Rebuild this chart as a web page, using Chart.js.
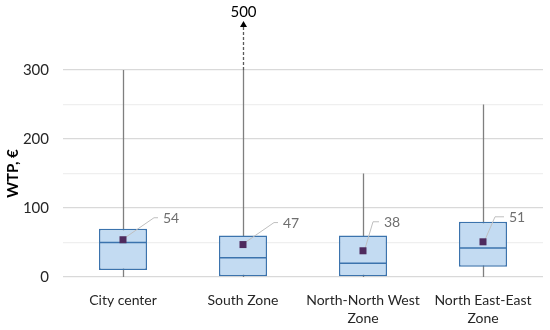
<!DOCTYPE html>
<html>
<head>
<meta charset="utf-8">
<script src="https://cdn.jsdelivr.net/npm/chart.js@4.4.0/dist/chart.umd.min.js"></script>
<style>
  body { margin: 0; background: #fff; }
  #wrap { width: 550px; height: 330px; }
</style>
</head>
<body>
<div id="wrap"><canvas id="chartWtp"></canvas></div>
<script>
const zones = [['City center'], ['South Zone'], ['North-North West', 'Zone'], ['North East-East', 'Zone']];
const whiskerMin = [0, 0, 0, 0];
const q1 = [10, 0, 0, 15];
const median = [50, 28, 20, 42];
const q3 = [70, 60, 60, 80];
const whiskerMax = [300, 300, 150, 250];
const means = [54, 47, 38, 51];
const beyondAxis = [null, 500, null, null];

// where the mean labels sit, in pixels from the marker
const labelOffsets = [
    { dx: 31, dy: -22, run: 4 },
    { dx: 31, dy: -22, run: 4 },
    { dx: 10, dy: -29, run: 6 },
    { dx: 12, dy: -25, run: 9 }
];

const boxBorder = '#3b73ad';
const fontFam = 'Lato, "Open Sans", sans-serif';

const boxPlotExtras = {
    id: 'boxPlotExtras',
    beforeDatasetsDraw(chart) {
        const { ctx, scales: { x, y } } = chart;
        ctx.save();
        ctx.strokeStyle = '#7f7f7f';
        ctx.lineWidth = 1.3;
        zones.forEach((z, i) => {
            const px = Math.round(x.getPixelForValue(i)) + 0.5;
            ctx.beginPath();
            ctx.moveTo(px, y.getPixelForValue(whiskerMin[i]));
            ctx.lineTo(px, y.getPixelForValue(whiskerMax[i]));
            ctx.stroke();

            if (beyondAxis[i] !== null) {
                const top = 26;
                ctx.save();
                ctx.strokeStyle = '#595959';
                ctx.setLineDash([3, 2]);
                ctx.beginPath();
                ctx.moveTo(px, y.getPixelForValue(whiskerMax[i]));
                ctx.lineTo(px, top);
                ctx.stroke();
                ctx.restore();
                ctx.fillStyle = '#000';
                ctx.beginPath();
                ctx.moveTo(px, top - 5);
                ctx.lineTo(px - 3.5, top + 1);
                ctx.lineTo(px + 3.5, top + 1);
                ctx.closePath();
                ctx.fill();
                ctx.font = '15px ' + fontFam;
                ctx.textAlign = 'center';
                ctx.textBaseline = 'middle';
                ctx.fillStyle = '#000';
                ctx.fillText(String(beyondAxis[i]), px, 12);
            }
        });
        ctx.restore();
    },
    afterDatasetsDraw(chart) {
        const { ctx, scales: { x, y } } = chart;
        const boxMeta = chart.getDatasetMeta(0);
        const meanMeta = chart.getDatasetMeta(1);
        ctx.save();
        // medians
        ctx.strokeStyle = boxBorder;
        ctx.lineWidth = 1.5;
        boxMeta.data.forEach((bar, i) => {
            const half = bar.width / 2;
            const py = y.getPixelForValue(median[i]);
            ctx.beginPath();
            ctx.moveTo(bar.x - half, py);
            ctx.lineTo(bar.x + half, py);
            ctx.stroke();
        });
        // mean labels with leader lines
        ctx.font = '14px ' + fontFam;
        ctx.textBaseline = 'middle';
        ctx.textAlign = 'left';
        meanMeta.data.forEach((pt, i) => {
            const o = labelOffsets[i];
            const bx = pt.x + o.dx, by = pt.y + o.dy;
            ctx.strokeStyle = '#bfbfbf';
            ctx.lineWidth = 1;
            ctx.beginPath();
            ctx.moveTo(pt.x + 2, pt.y - 2);
            ctx.lineTo(bx, by);
            ctx.lineTo(bx + o.run, by);
            ctx.stroke();
            ctx.fillStyle = '#6f6f6f';
            ctx.fillText(String(means[i]), bx + o.run + 5, by + 1);
        });
        // redraw markers over the leader lines
        ctx.fillStyle = '#4e2a5e';
        meanMeta.data.forEach(pt => {
            ctx.fillRect(pt.x - 3.5, pt.y - 3.5, 7, 7);
        });
        ctx.restore();
    }
};

new Chart(document.getElementById('chartWtp').getContext('2d'), {
    type: 'bar',
    data: {
        labels: zones,
        datasets: [{
            data: zones.map((z, i) => [q1[i], q3[i]]),
            backgroundColor: '#c3dbf2',
            borderColor: boxBorder,
            borderWidth: 1.5,
            borderSkipped: false,
            categoryPercentage: 1,
            barPercentage: 0.4
        }, {
            type: 'line',
            data: means,
            showLine: false,
            pointStyle: 'rect',
            pointRadius: 4.9,
            pointBorderWidth: 0,
            pointBackgroundColor: '#4e2a5e'
        }]
    },
    options: {
        responsive: true,
        maintainAspectRatio: false,
        animation: false,
        layout: { padding: { top: 70, right: 7, bottom: 0, left: 4 } },
        plugins: { legend: { display: false }, tooltip: { enabled: false } },
        scales: {
            x: {
                grid: { display: false },
                border: { display: false },
                ticks: { color: '#262626', font: { family: fontFam, size: 14, lineHeight: 1.25 }, maxRotation: 0, padding: 7 },
                afterFit(s) { s.height = 53; }
            },
            y: {
                min: 0,
                max: 300,
                ticks: {
                    stepSize: 50,
                    color: '#262626',
                    font: { family: fontFam, size: 15 },
                    padding: 14,
                    callback: v => (v % 100 === 0 ? v : '')
                },
                grid: {
                    drawTicks: false,
                    color: c => (c.tick && c.tick.value % 100 === 0 ? '#d9d9d9' : '#efefef'),
                    lineWidth: 1.3
                },
                border: { display: false },
                title: {
                    display: true,
                    text: 'WTP, €',
                    color: '#000',
                    font: { family: fontFam, size: 15, weight: 'bold' },
                    padding: 0
                },
                afterFit(s) { s.width = 59; }
            }
        }
    },
    plugins: [boxPlotExtras]
});
</script>
</body>
</html>
